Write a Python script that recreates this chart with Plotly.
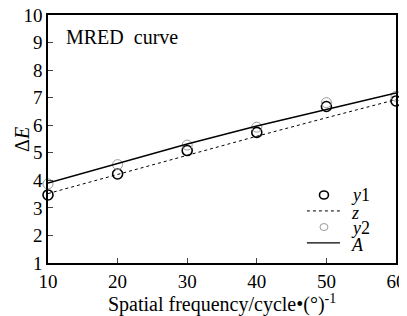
import plotly.graph_objects as go

freq = [10, 20, 30, 40, 50, 60]
y1 = [3.47, 4.23, 5.08, 5.74, 6.68, 6.88]
y2 = [3.87, 4.57, 5.28, 5.93, 6.82, 7.05]
z = [3.52, 4.22, 4.92, 5.60, 6.27, 6.93]
A = [3.90, 4.62, 5.32, 5.97, 6.57, 7.17]

xticks = [10, 20, 30, 40, 50, 60]
yticks = [1, 2, 3, 4, 5, 6, 7, 8, 9, 10]
legend_labels = ["<i>y</i>1", "<i>z</i>", "<i>y</i>2", "<i>A</i>"]

serif = "Liberation Serif"

fig = go.Figure()
fig.add_trace(go.Scatter(x=freq, y=y1, mode="markers", name=legend_labels[0],
                         marker=dict(symbol="circle-open", size=10, color="black", line=dict(width=1.6)),
                         cliponaxis=False))
fig.add_trace(go.Scatter(x=freq, y=z, mode="lines", name=legend_labels[1],
                         line=dict(color="black", width=1, dash="dot")))
fig.add_trace(go.Scatter(x=freq, y=y2, mode="markers", name=legend_labels[2],
                         marker=dict(symbol="circle-open", size=10, color="#999999", line=dict(width=1)),
                         cliponaxis=False))
fig.add_trace(go.Scatter(x=freq, y=A, mode="lines", name=legend_labels[3],
                         line=dict(color="black", width=1.4)))

# hand-made legend (layout only, in paper coordinates)
row_y = [0.274, 0.210, 0.145, 0.081]
lab_y = [0.274, 0.203, 0.141, 0.073]
sym_x, line_x0, line_x1, text_x = 0.793, 0.744, 0.839, 0.866
shapes = [
    dict(type="circle", xref="paper", yref="paper", xsizemode="pixel", ysizemode="pixel",
         xanchor=sym_x, yanchor=row_y[0], x0=-4.5, x1=4.5, y0=-4, y1=4,
         line=dict(color="black", width=1.6)),
    dict(type="line", xref="paper", yref="paper", x0=line_x0, x1=line_x1, y0=row_y[1], y1=row_y[1],
         line=dict(color="black", width=1, dash="dot")),
    dict(type="circle", xref="paper", yref="paper", xsizemode="pixel", ysizemode="pixel",
         xanchor=sym_x, yanchor=row_y[2], x0=-4, x1=4, y0=-3.5, y1=3.5,
         line=dict(color="#999999", width=1)),
    dict(type="line", xref="paper", yref="paper", x0=line_x0, x1=line_x1, y0=row_y[3], y1=row_y[3],
         line=dict(color="black", width=1.4)),
]
annotations = [dict(text=t, xref="paper", yref="paper", x=text_x, y=yy, xanchor="left",
                    yanchor="middle", showarrow=False, font=dict(family=serif, size=18))
               for t, yy in zip(legend_labels, lab_y)]
annotations += [
    dict(text="MRED  curve", xref="paper", yref="paper", x=0.045, y=0.965,
         xanchor="left", yanchor="top", showarrow=False, font=dict(family=serif, size=20)),
    dict(text="Spatial frequency/cycle•(°)<sup>-1</sup>", xref="paper", yref="paper",
         x=0.5, y=-0.163, xanchor="center", yanchor="middle", showarrow=False,
         font=dict(family=serif, size=20)),
    dict(text="Δ<i>E</i>", xref="paper", yref="paper", x=-0.075, y=0.5, textangle=-90,
         xanchor="center", yanchor="middle", showarrow=False, font=dict(family=serif, size=20)),
]

# page body adds an 8px offset, so the figure is 8px smaller and margins shifted
fig.update_layout(
    width=399, height=308,
    margin=dict(l=40, r=11, t=7, b=53, autoexpand=False),
    paper_bgcolor="white", plot_bgcolor="white",
    font=dict(family=serif, size=16, color="black"),
    showlegend=False,
    shapes=shapes,
    annotations=annotations,
    xaxis=dict(range=[10, 60], tickvals=xticks, ticks="inside", ticklen=5,
               showline=True, linecolor="black", linewidth=1.5, mirror=True,
               showgrid=False, zeroline=False, automargin=False,
               ticklabeloverflow="allow",
               tickfont=dict(family=serif, size=19)),
    yaxis=dict(range=[1, 10], tickvals=yticks, ticks="inside", ticklen=5,
               showline=True, linecolor="black", linewidth=1.5, mirror=True,
               showgrid=False, zeroline=False, automargin=False,
               ticklabeloverflow="allow",
               tickfont=dict(family=serif, size=19)),
)

fig.write_html("out.html")
